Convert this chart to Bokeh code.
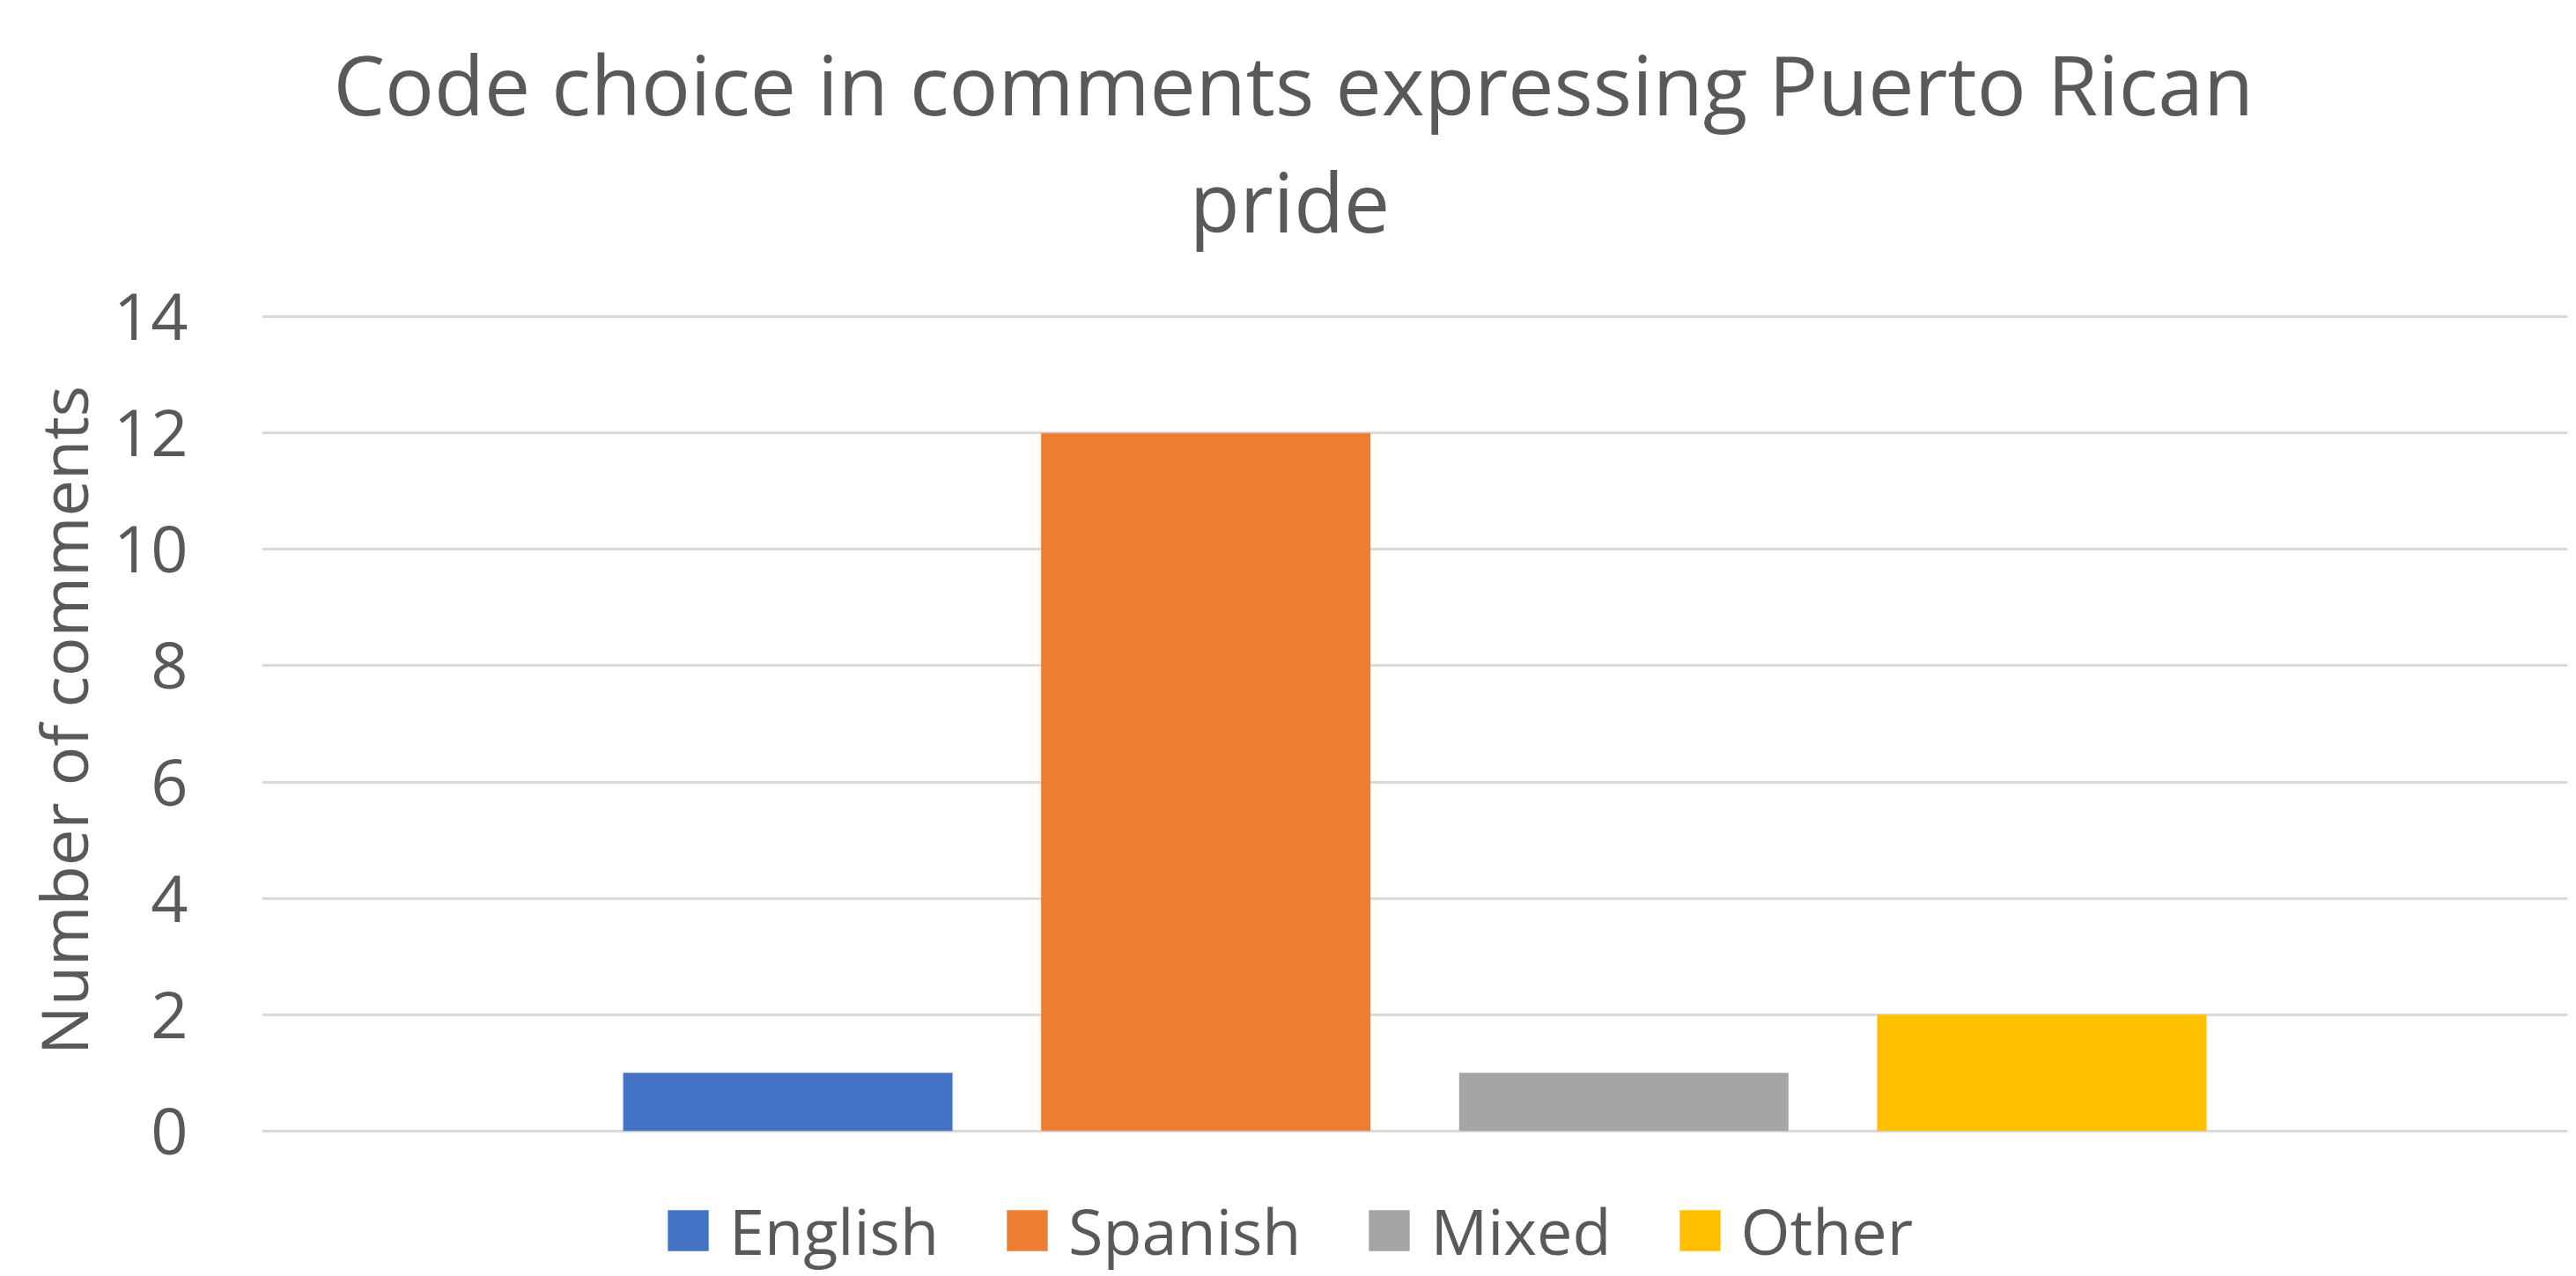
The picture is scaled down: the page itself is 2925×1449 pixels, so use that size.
from bokeh.plotting import figure
from bokeh.models import (ColumnDataSource, FactorRange, Range1d, FixedTicker,
                          Legend, LegendItem, Title, Label)
from bokeh.embed import file_html
from bokeh.resources import INLINE

# ---- data ----
categories = ["English", "Spanish", "Mixed", "Other"]
counts = [1, 12, 1, 2]
bar_colors = ["#4472C4", "#ED7D31", "#A5A5A5", "#FFC000"]
y_ticks = [0, 2, 4, 6, 8, 10, 12, 14]
title_lines = ["Code choice in comments expressing Puerto Rican", "pride"]
y_label = "Number of comments"

FONT = "Open Sans"
TXT = "#595959"

src = ColumnDataSource(dict(cat=categories, n=counts, color=bar_colors))

# frame spans from just under the title to the bottom edge; the value axis
# runs 0..14 inside it, the extra room holds the second title line and legend
p = figure(
    width=2925, height=1449,
    x_range=FactorRange(factors=categories, range_padding=0.379,
                        range_padding_units="percent"),
    y_range=Range1d(-2.5015, 16.622),
    output_backend="svg", toolbar_location=None,
    min_border_left=297, min_border_right=10,
    min_border_top=180, min_border_bottom=0,
)
p.outline_line_color = None
p.background_fill_color = "white"
p.border_fill_color = "white"

r = p.vbar(x="cat", top="n", width=0.788, bottom=0, source=src,
           fill_color="color", line_color=None)

# axes
p.xaxis.visible = False
p.xgrid.visible = False
ya = p.yaxis[0]
ya.ticker = FixedTicker(ticks=y_ticks)
ya.axis_line_color = None
ya.major_tick_line_color = None
ya.minor_tick_line_color = None
ya.major_tick_out = 0
ya.major_tick_in = 0
ya.major_label_standoff = 84
ya.major_label_text_font = FONT
ya.major_label_text_font_size = "74px"
ya.major_label_text_color = TXT
ya.axis_label = y_label
ya.axis_label_text_font = FONT
ya.axis_label_text_font_size = "74px"
ya.axis_label_text_font_style = "normal"
ya.axis_label_text_color = TXT
ya.axis_label_standoff = 4

p.ygrid.grid_line_color = "#D9D9D9"
p.ygrid.grid_line_width = 3

# title line 1 (above panel) and line 2 (inside the frame's top margin)
p.add_layout(Title(text=title_lines[0], align="left", offset=81, standoff=58,
                   text_font=FONT, text_font_size="93px",
                   text_font_style="normal", text_color=TXT), "above")
p.add_layout(Label(x=1167, y=1222, x_units="screen", y_units="screen",
                   text=title_lines[1], text_align="center",
                   text_baseline="alphabetic", text_font=FONT,
                   text_font_size="93px", text_color=TXT))

# legend
items = [LegendItem(label=c, renderers=[r], index=i) for i, c in enumerate(categories)]
leg = Legend(items=items, orientation="horizontal", location=(455, 2),
             glyph_width=58, glyph_height=58, label_height=100,
             label_standoff=18, spacing=71, padding=0, margin=0,
             label_text_font=FONT, label_text_font_size="72px",
             label_text_color=TXT, label_text_baseline="alphabetic",
             border_line_color=None, background_fill_alpha=0)
p.add_layout(leg)

open("out.html", "w").write(file_html(p, INLINE))
